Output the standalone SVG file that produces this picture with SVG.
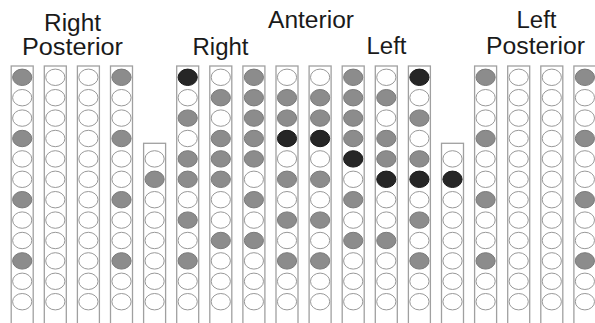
<svg xmlns="http://www.w3.org/2000/svg" xmlns:xlink="http://www.w3.org/1999/xlink" width="595" height="323" viewBox="0 0 595 323">
<style>
.bg{fill:#ffffff}
.col{fill:#ffffff;stroke:#a0a0a0;stroke-width:1.3}
.w{fill:#ffffff;stroke:#999999;stroke-width:1}
.g{fill:#8c8c8c;stroke:#7a7a7a;stroke-width:1}
.b{fill:#262626;stroke:#1a1a1a;stroke-width:1}
.lbl{font-family:"Liberation Sans",Arial,sans-serif;font-size:23px;fill:#1a1a1a}
</style>
<defs>
<ellipse id="W" class="w" cx="0" cy="0" rx="9.6" ry="8.2"/>
<ellipse id="G" class="g" cx="0" cy="0" rx="9.6" ry="8.2"/>
<ellipse id="B" class="b" cx="0" cy="0" rx="9.6" ry="8.2"/>
</defs>
<rect class="bg" x="0" y="0" width="595" height="323"/>
<g id="labels">
<text class="lbl" x="44" y="30.5" textLength="57" lengthAdjust="spacingAndGlyphs">Right</text>
<text class="lbl" x="22" y="55" textLength="101" lengthAdjust="spacingAndGlyphs">Posterior</text>
<text class="lbl" x="268" y="27.5" textLength="86" lengthAdjust="spacingAndGlyphs">Anterior</text>
<text class="lbl" x="192.5" y="55" textLength="56" lengthAdjust="spacingAndGlyphs">Right</text>
<text class="lbl" x="366.5" y="54" textLength="40" lengthAdjust="spacingAndGlyphs">Left</text>
<text class="lbl" x="516.5" y="27.5" textLength="40" lengthAdjust="spacingAndGlyphs">Left</text>
<text class="lbl" x="486" y="54" textLength="99" lengthAdjust="spacingAndGlyphs">Posterior</text>
</g>
<g id="connectors"></g>
<g id="col1" transform="translate(22.2,0)"><rect class="col" x="-11" y="66" width="22" height="270"/>
<use href="#G" y="77.3"/><use href="#W" y="97.7"/><use href="#W" y="118.1"/><use href="#G" y="138.5"/><use href="#W" y="158.9"/><use href="#W" y="179.3"/><use href="#G" y="199.7"/><use href="#W" y="220.1"/><use href="#W" y="240.5"/><use href="#G" y="260.9"/><use href="#W" y="281.3"/><use href="#W" y="301.7"/></g>
<g id="col2" transform="translate(55.3,0)"><rect class="col" x="-11" y="66" width="22" height="270"/>
<use href="#W" y="77.3"/><use href="#W" y="97.7"/><use href="#W" y="118.1"/><use href="#W" y="138.5"/><use href="#W" y="158.9"/><use href="#W" y="179.3"/><use href="#W" y="199.7"/><use href="#W" y="220.1"/><use href="#W" y="240.5"/><use href="#W" y="260.9"/><use href="#W" y="281.3"/><use href="#W" y="301.7"/></g>
<g id="col3" transform="translate(88.4,0)"><rect class="col" x="-11" y="66" width="22" height="270"/>
<use href="#W" y="77.3"/><use href="#W" y="97.7"/><use href="#W" y="118.1"/><use href="#W" y="138.5"/><use href="#W" y="158.9"/><use href="#W" y="179.3"/><use href="#W" y="199.7"/><use href="#W" y="220.1"/><use href="#W" y="240.5"/><use href="#W" y="260.9"/><use href="#W" y="281.3"/><use href="#W" y="301.7"/></g>
<g id="col4" transform="translate(121.5,0)"><rect class="col" x="-11" y="66" width="22" height="270"/>
<use href="#G" y="77.3"/><use href="#W" y="97.7"/><use href="#W" y="118.1"/><use href="#G" y="138.5"/><use href="#W" y="158.9"/><use href="#W" y="179.3"/><use href="#G" y="199.7"/><use href="#W" y="220.1"/><use href="#W" y="240.5"/><use href="#G" y="260.9"/><use href="#W" y="281.3"/><use href="#W" y="301.7"/></g>
<g id="col5" transform="translate(154.6,0)"><rect class="col" x="-11" y="143.3" width="22" height="200"/>
<use href="#W" y="158.9"/><use href="#G" y="179.3"/><use href="#W" y="199.7"/><use href="#W" y="220.1"/><use href="#W" y="240.5"/><use href="#W" y="260.9"/><use href="#W" y="281.3"/><use href="#W" y="301.7"/></g>
<g id="col6" transform="translate(187.7,0)"><rect class="col" x="-11" y="66" width="22" height="270"/>
<use href="#B" y="77.3"/><use href="#W" y="97.7"/><use href="#G" y="118.1"/><use href="#W" y="138.5"/><use href="#G" y="158.9"/><use href="#G" y="179.3"/><use href="#W" y="199.7"/><use href="#G" y="220.1"/><use href="#W" y="240.5"/><use href="#G" y="260.9"/><use href="#W" y="281.3"/><use href="#W" y="301.7"/></g>
<g id="col7" transform="translate(220.8,0)"><rect class="col" x="-11" y="66" width="22" height="270"/>
<use href="#W" y="77.3"/><use href="#G" y="97.7"/><use href="#W" y="118.1"/><use href="#G" y="138.5"/><use href="#G" y="158.9"/><use href="#G" y="179.3"/><use href="#W" y="199.7"/><use href="#W" y="220.1"/><use href="#G" y="240.5"/><use href="#W" y="260.9"/><use href="#W" y="281.3"/><use href="#W" y="301.7"/></g>
<g id="col8" transform="translate(253.9,0)"><rect class="col" x="-11" y="66" width="22" height="270"/>
<use href="#G" y="77.3"/><use href="#G" y="97.7"/><use href="#G" y="118.1"/><use href="#G" y="138.5"/><use href="#G" y="158.9"/><use href="#W" y="179.3"/><use href="#G" y="199.7"/><use href="#W" y="220.1"/><use href="#G" y="240.5"/><use href="#W" y="260.9"/><use href="#W" y="281.3"/><use href="#W" y="301.7"/></g>
<g id="col9" transform="translate(287,0)"><rect class="col" x="-11" y="66" width="22" height="270"/>
<use href="#W" y="77.3"/><use href="#G" y="97.7"/><use href="#G" y="118.1"/><use href="#B" y="138.5"/><use href="#W" y="158.9"/><use href="#G" y="179.3"/><use href="#W" y="199.7"/><use href="#G" y="220.1"/><use href="#W" y="240.5"/><use href="#G" y="260.9"/><use href="#W" y="281.3"/><use href="#W" y="301.7"/></g>
<g id="col10" transform="translate(320.1,0)"><rect class="col" x="-11" y="66" width="22" height="270"/>
<use href="#W" y="77.3"/><use href="#G" y="97.7"/><use href="#G" y="118.1"/><use href="#B" y="138.5"/><use href="#W" y="158.9"/><use href="#G" y="179.3"/><use href="#W" y="199.7"/><use href="#G" y="220.1"/><use href="#W" y="240.5"/><use href="#G" y="260.9"/><use href="#W" y="281.3"/><use href="#W" y="301.7"/></g>
<g id="col11" transform="translate(353.2,0)"><rect class="col" x="-11" y="66" width="22" height="270"/>
<use href="#G" y="77.3"/><use href="#G" y="97.7"/><use href="#G" y="118.1"/><use href="#G" y="138.5"/><use href="#B" y="158.9"/><use href="#W" y="179.3"/><use href="#G" y="199.7"/><use href="#W" y="220.1"/><use href="#G" y="240.5"/><use href="#W" y="260.9"/><use href="#W" y="281.3"/><use href="#W" y="301.7"/></g>
<g id="col12" transform="translate(386.3,0)"><rect class="col" x="-11" y="66" width="22" height="270"/>
<use href="#W" y="77.3"/><use href="#G" y="97.7"/><use href="#W" y="118.1"/><use href="#G" y="138.5"/><use href="#G" y="158.9"/><use href="#B" y="179.3"/><use href="#W" y="199.7"/><use href="#W" y="220.1"/><use href="#G" y="240.5"/><use href="#W" y="260.9"/><use href="#W" y="281.3"/><use href="#W" y="301.7"/></g>
<g id="col13" transform="translate(419.4,0)"><rect class="col" x="-11" y="66" width="22" height="270"/>
<use href="#B" y="77.3"/><use href="#W" y="97.7"/><use href="#G" y="118.1"/><use href="#W" y="138.5"/><use href="#G" y="158.9"/><use href="#B" y="179.3"/><use href="#W" y="199.7"/><use href="#G" y="220.1"/><use href="#W" y="240.5"/><use href="#G" y="260.9"/><use href="#W" y="281.3"/><use href="#W" y="301.7"/></g>
<g id="col14" transform="translate(452.5,0)"><rect class="col" x="-11" y="143.3" width="22" height="200"/>
<use href="#W" y="158.9"/><use href="#B" y="179.3"/><use href="#W" y="199.7"/><use href="#W" y="220.1"/><use href="#W" y="240.5"/><use href="#W" y="260.9"/><use href="#W" y="281.3"/><use href="#W" y="301.7"/></g>
<g id="col15" transform="translate(485.6,0)"><rect class="col" x="-11" y="66" width="22" height="270"/>
<use href="#G" y="77.3"/><use href="#W" y="97.7"/><use href="#W" y="118.1"/><use href="#G" y="138.5"/><use href="#W" y="158.9"/><use href="#W" y="179.3"/><use href="#G" y="199.7"/><use href="#W" y="220.1"/><use href="#W" y="240.5"/><use href="#G" y="260.9"/><use href="#W" y="281.3"/><use href="#W" y="301.7"/></g>
<g id="col16" transform="translate(518.7,0)"><rect class="col" x="-11" y="66" width="22" height="270"/>
<use href="#W" y="77.3"/><use href="#W" y="97.7"/><use href="#W" y="118.1"/><use href="#W" y="138.5"/><use href="#W" y="158.9"/><use href="#W" y="179.3"/><use href="#W" y="199.7"/><use href="#W" y="220.1"/><use href="#W" y="240.5"/><use href="#W" y="260.9"/><use href="#W" y="281.3"/><use href="#W" y="301.7"/></g>
<g id="col17" transform="translate(551.8,0)"><rect class="col" x="-11" y="66" width="22" height="270"/>
<use href="#W" y="77.3"/><use href="#W" y="97.7"/><use href="#W" y="118.1"/><use href="#W" y="138.5"/><use href="#W" y="158.9"/><use href="#W" y="179.3"/><use href="#W" y="199.7"/><use href="#W" y="220.1"/><use href="#W" y="240.5"/><use href="#W" y="260.9"/><use href="#W" y="281.3"/><use href="#W" y="301.7"/></g>
<g id="col18" transform="translate(584.9,0)"><rect class="col" x="-11" y="66" width="22" height="270"/>
<use href="#G" y="77.3"/><use href="#W" y="97.7"/><use href="#W" y="118.1"/><use href="#G" y="138.5"/><use href="#W" y="158.9"/><use href="#W" y="179.3"/><use href="#G" y="199.7"/><use href="#W" y="220.1"/><use href="#W" y="240.5"/><use href="#G" y="260.9"/><use href="#W" y="281.3"/><use href="#W" y="301.7"/></g>
</svg>
